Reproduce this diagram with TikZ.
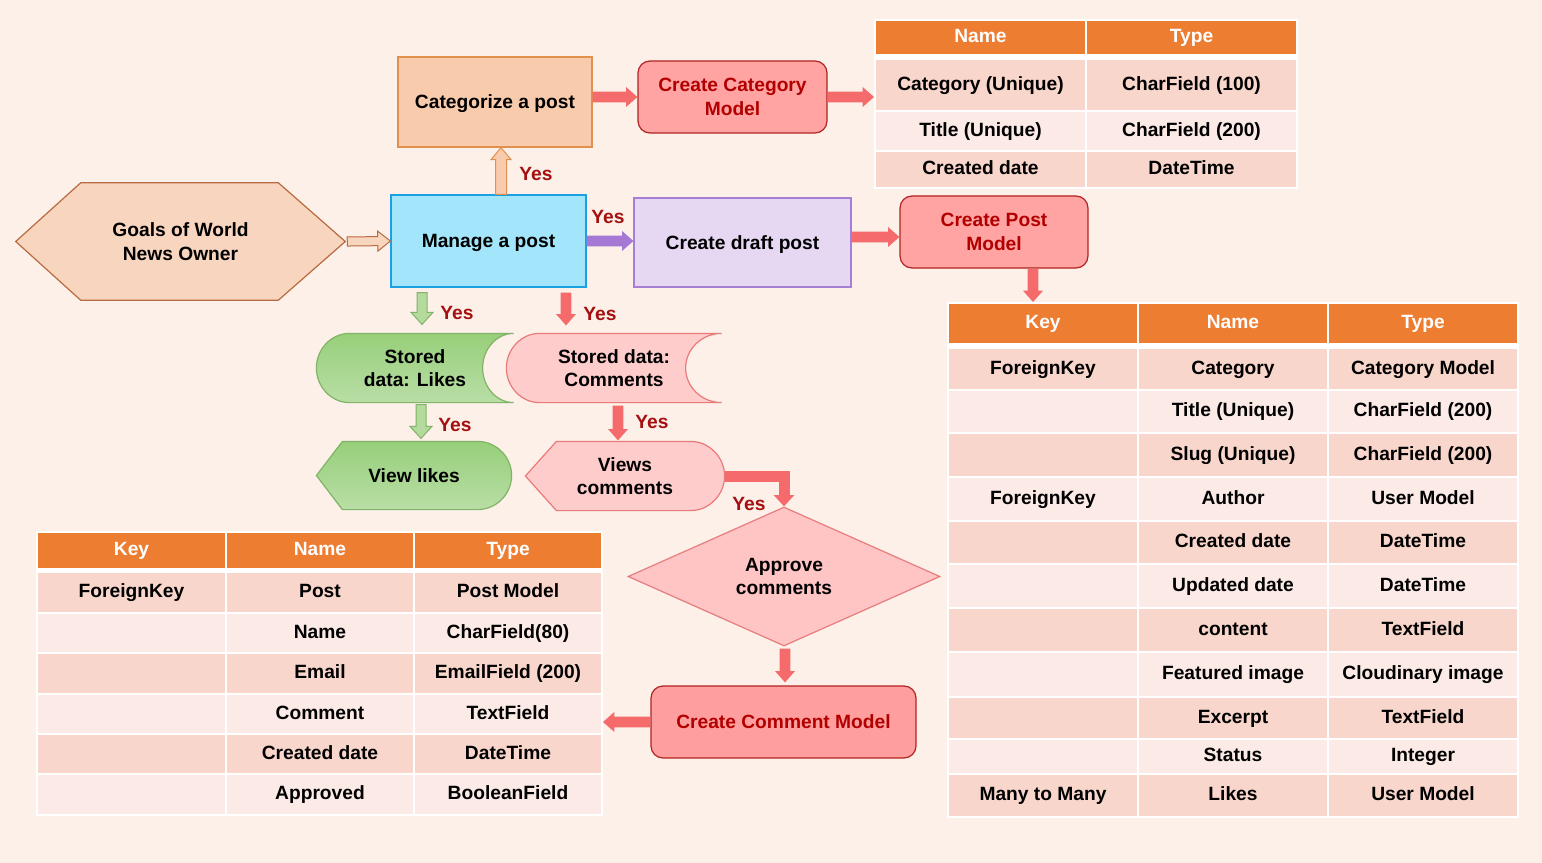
\documentclass[tikz,border=0pt]{standalone}
\usepackage{fontspec}
\setmainfont{Liberation Sans}
\usetikzlibrary{calc,arrows.meta,shapes.geometric}
\pgfdeclarelayer{bgl}
\pgfsetlayers{bgl,main}
\definecolor{bg}{HTML}{FCF0E9}
\definecolor{hdr}{HTML}{ED7D31}
\definecolor{rowd}{HTML}{F8D6CB}
\definecolor{rowl}{HTML}{FBEAE5}
\definecolor{yescol}{HTML}{A50F0F}
\definecolor{darkred}{HTML}{B20000}
\definecolor{arrred}{HTML}{F56B6B}
\definecolor{pinkfill}{HTML}{FFA3A3}
\definecolor{pinkborder}{HTML}{B22222}
\definecolor{lightpink}{HTML}{FFCCCC}
\definecolor{lightpinkbd}{HTML}{EA7A7A}
\definecolor{cyanfill}{HTML}{A3E6FB}
\definecolor{cyanbd}{HTML}{1BA1E2}
\definecolor{lavfill}{HTML}{E6D7F3}
\definecolor{lavbd}{HTML}{A67FD4}
\definecolor{purpcol}{HTML}{A678D6}
\definecolor{peachfill}{HTML}{F8CBAD}
\definecolor{peachbd}{HTML}{E0904F}
\definecolor{goalsfill}{HTML}{F8D5BF}
\definecolor{goalsbd}{HTML}{B86A40}
\definecolor{grtop}{HTML}{97CF7A}
\definecolor{grbot}{HTML}{B9DEA6}
\definecolor{grbd}{HTML}{82B366}
\definecolor{grarr}{HTML}{B5DA9E}
\definecolor{diafill}{HTML}{FFC4C4}
\definecolor{diabd}{HTML}{E67C7C}
\definecolor{cmmfill}{HTML}{FF9E9E}
\newcommand\dtxt{\bfseries\fontsize{14.4}{17.6}\selectfont}
\tikzset{
 blockarrow/.style n args={3}{to path={let \p1=(\tikztostart),\p2=(\tikztotarget),
   \n1={veclen(\x2-\x1,\y2-\y1)},\n2={atan2(\y2-\y1,\x2-\x1)} in
   [shift={(\p1)},rotate=\n2] (0pt,-#1) -- ({\n1*1pt-#3},-#1) -- ({\n1*1pt-#3},-#2)
   -- ({\n1*1pt},0pt) -- ({\n1*1pt-#3},#2) -- ({\n1*1pt-#3},#1) -- (0pt,#1) -- cycle}},
 redarr/.style={blockarrow={4.1pt}{7.5pt}{8.5pt},fill=arrred,draw=none},
 purparr/.style={blockarrow={4.1pt}{7.5pt}{8.5pt},fill=purpcol,draw=none},
 goalarr/.style={blockarrow={3.4pt}{7.5pt}{9.5pt},fill=goalsfill,draw=goalsbd,line width=0.75pt},
 peacharr/.style={blockarrow={4.1pt}{7.5pt}{9pt},fill=peachfill,draw=peachbd,line width=0.75pt},
 greenarr/.style={blockarrow={3.75pt}{8.25pt}{9pt},fill=grarr,draw=grbd,line width=0.75pt},
 bx/.style={draw,line width=0.9pt,inner sep=0pt,align=center,font=\dtxt},
 one/.style={text height=10.3pt,text depth=0pt},
 yes/.style={text=yescol,font=\dtxt,inner sep=0pt,text height=10.3pt,text depth=0pt},
 tcell/.style={draw=white,line width=1.5pt,inner sep=0pt,font=\dtxt,text=black,text height=10.3pt,text depth=2.6pt},
}
\newcommand\tc[7]{\node[tcell,fill=#6,minimum width={(#4-#2)*0.75pt},minimum height={(#5-#3)*0.75pt}] (#1) at ({(#2+#4)/2},{(#3+#5)/2}) {#7};}
\newcommand\hc[6]{\node[tcell,fill=hdr,text=white,minimum width={(#4-#2)*0.75pt},minimum height={(#5-#3)*0.75pt}] (#1) at ({(#2+#4)/2},{(#3+#5)/2}) {#6};}
\newcommand\prow[7]{\tc{#1a}{948}{#2}{1138}{#3}{#4}{#5}\tc{#1b}{1138}{#2}{1328}{#3}{#4}{#6}\tc{#1c}{1328}{#2}{1518}{#3}{#4}{#7}}
\newcommand\krow[7]{\tc{#1a}{37}{#2}{226}{#3}{#4}{#5}\tc{#1b}{226}{#2}{414}{#3}{#4}{#6}\tc{#1c}{414}{#2}{602}{#3}{#4}{#7}}
\newcommand\storedpath[3]{($(#1.north west)+(#2,0)$) .. controls ($(#1.north west)+({0.448*#2},0)$) and ($(#1.west)+(0,-18.8)$) .. (#1.west) .. controls ($(#1.west)+(0,18.8)$) and ($(#1.south west)+({0.448*#2},0)$) .. ($(#1.south west)+(#2,0)$) -- (#1.south east) .. controls ($(#1.south east)+({-0.552*#3},0)$) and ($(#1.east)+(-#3,18.8)$) .. ($(#1.east)+(-#3,0)$) .. controls ($(#1.east)+(-#3,-18.8)$) and ($(#1.north east)+({-0.552*#3},0)$) .. (#1.north east) -- cycle}
\newcommand\displaypath[3]{(#1.west) -- ($(#1.north west)+(#2,0)$) -- ($(#1.north east)+(-#3,0)$) .. controls ($(#1.north east)+({-0.448*#3},0)$) and ($(#1.east)+(0,-18.5)$) .. (#1.east) .. controls ($(#1.east)+(0,18.5)$) and ($(#1.south east)+({-0.448*#3},0)$) .. ($(#1.south east)+(-#3,0)$) -- ($(#1.south west)+(#2,0)$) -- cycle}
\begin{document}
\begin{tikzpicture}[x=0.75pt,y=-0.75pt]
\begin{pgfonlayer}{bgl}
\fill[bg] (0,0) rectangle (1542,863);
\end{pgfonlayer}
\useasboundingbox (0,0) rectangle (1542,863);
% ---------- flow nodes ----------
\node[inner sep=0pt,minimum width=246.75pt,minimum height=87.75pt,align=center,font=\dtxt] (goals) at (180.5,241.5) {Goals of World\\News Owner};
\node[bx,one,draw=cyanbd,fill=cyanfill,minimum width=146.25pt,minimum height=69pt] (manage) at (488.5,241) {Manage a post};
\node[bx,one,draw=peachbd,fill=peachfill,minimum width=145.5pt,minimum height=67.5pt] (categorize) at (495,102) {Categorize a post};
\node[bx,draw=pinkborder,fill=pinkfill,text=darkred,rounded corners=9pt,minimum width=141.75pt,minimum height=54pt] (ccm) at (732.5,97) {Create Category\\Model};
\node[bx,one,draw=lavbd,fill=lavfill,minimum width=162.75pt,minimum height=66.75pt] (draft) at (742.5,242.5) {Create draft post};
\node[bx,draw=pinkborder,fill=pinkfill,text=darkred,rounded corners=9pt,minimum width=141pt,minimum height=54pt] (cpm) at (994,232) {Create Post\\Model};
\node[bx,draw=none,minimum width=147pt,minimum height=51pt] (likes) at (415,368) {Stored\\data: Likes};
\node[bx,draw=none,minimum width=160.5pt,minimum height=51pt] (scomm) at (614,368) {Stored data:\\Comments};
\node[bx,one,draw=none,minimum width=145.5pt,minimum height=50.25pt] (vlikes) at (414,475.5) {View likes};
\node[bx,draw=none,minimum width=148.5pt,minimum height=51pt] (vcomm) at (625,476) {Views\\comments};
\node[bx,diamond,draw=diabd,fill=diafill,minimum width=234pt,minimum height=104.25pt] (approve) at (784,576.5) {Approve\\comments};
\node[bx,one,draw=pinkborder,fill=cmmfill,text=darkred,rounded corners=9pt,minimum width=198.75pt,minimum height=54pt] (cmm) at (783.5,722) {Create Comment Model};
% ---------- custom outlines ----------
\begin{pgfonlayer}{bgl}
\draw[draw=goalsbd,fill=goalsfill,line width=0.9pt] (goals.west) -- ($(goals.north west)+(65,0)$) -- ($(goals.north east)+(-67,0)$) -- (goals.east) -- ($(goals.south east)+(-67,0)$) -- ($(goals.south west)+(65,0)$) -- cycle;
\draw[draw=grbd,top color=grtop,bottom color=grbot,line width=0.9pt] \storedpath{likes}{33}{31};
\draw[draw=lightpinkbd,fill=lightpink,line width=0.9pt] \storedpath{scomm}{33}{36};
\draw[draw=grbd,top color=grtop,bottom color=grbot,line width=0.9pt] \displaypath{vlikes}{26}{34};
\draw[draw=lightpinkbd,fill=lightpink,line width=0.9pt] \displaypath{vcomm}{31}{34};
\end{pgfonlayer}
% ---------- tables ----------
\fill[white] (874,19) rectangle (1298,189);
\hc{c0a}{875}{20}{1086}{55}{Name}
\hc{c0b}{1086}{20}{1297}{55}{Type}
\tc{c1a}{875}{59}{1086}{111}{rowd}{Category (Unique)}
\tc{c1b}{1086}{59}{1297}{111}{rowd}{CharField (100)}
\tc{c2a}{875}{111}{1086}{151}{rowl}{Title (Unique)}
\tc{c2b}{1086}{111}{1297}{151}{rowl}{CharField (200)}
\tc{c3a}{875}{151}{1086}{188}{rowd}{Created date}
\tc{c3b}{1086}{151}{1297}{188}{rowd}{DateTime}
\fill[white] (947,302) rectangle (1519,818);
\hc{p0a}{948}{303}{1138}{344}{Key}
\hc{p0b}{1138}{303}{1328}{344}{Name}
\hc{p0c}{1328}{303}{1518}{344}{Type}
\prow{p1}{348}{390}{rowd}{ForeignKey}{Category}{Category Model}
\prow{p2}{390}{433}{rowl}{}{Title (Unique)}{CharField (200)}
\prow{p3}{433}{477}{rowd}{}{Slug (Unique)}{CharField (200)}
\prow{p4}{477}{521}{rowl}{ForeignKey}{Author}{User Model}
\prow{p5}{521}{564}{rowd}{}{Created date}{DateTime}
\prow{p6}{564}{608}{rowl}{}{Updated date}{DateTime}
\prow{p7}{608}{652}{rowd}{}{content}{TextField}
\prow{p8}{652}{697}{rowl}{}{Featured image}{Cloudinary image}
\prow{p9}{697}{739}{rowd}{}{Excerpt}{TextField}
\prow{p10}{739}{774}{rowl}{}{Status}{Integer}
\prow{p11}{774}{817}{rowd}{Many to Many}{Likes}{User Model}
\fill[white] (36,531) rectangle (603,816);
\hc{k0a}{37}{532}{226}{569}{Key}
\hc{k0b}{226}{532}{414}{569}{Name}
\hc{k0c}{414}{532}{602}{569}{Type}
\krow{k1}{572}{613}{rowd}{ForeignKey}{Post}{Post Model}
\krow{k2}{613}{653}{rowl}{}{Name}{CharField(80)}
\krow{k3}{653}{694}{rowd}{}{Email}{EmailField (200)}
\krow{k4}{694}{734}{rowl}{}{Comment}{TextField}
\krow{k5}{734}{774}{rowd}{}{Created date}{DateTime}
\krow{k6}{774}{815}{rowl}{}{Approved}{BooleanField}
% ---------- connectors ----------
\draw[goalarr] ($(goals.east)+(2,0)$) to (manage.west);
\draw[peacharr] ([xshift=9.4pt]manage.north) to ([xshift=9.4pt]manage.north |- categorize.south);
\draw[redarr] (categorize.east |- ccm.west) to (ccm.west);
\draw[redarr] (ccm.east) to (ccm.east -| c1a.west);
\draw[purparr] (manage.east) to (draft.west |- manage.east);
\draw[redarr] ([yshift=-3.75pt]draft.east |- cpm.west) to ([yshift=-3.75pt]cpm.west);
\draw[redarr] ([xshift=29.25pt]cpm.south) to ([xshift=29.25pt]cpm.south |- p0a.north);
\draw[greenarr] ($(manage.south -| likes.north)+(7,5)$) to ($(likes.north)+(7,-9)$);
\draw[redarr] ($(manage.south -| scomm.north)+(-48,5)$) to ($(scomm.north)+(-48,-8)$);
\draw[greenarr] ($(likes.south)+(6,2)$) to ($(vlikes.north)+(7,-3)$);
\draw[redarr] ($(scomm.south)+(4,3)$) to ($(vcomm.north)+(-7,-1)$);
\draw[arrred,line width=8.25pt,-{Triangle[width=15pt,length=8.5pt]}] (vcomm.east) -| (approve.north);
\draw[redarr] ($(approve.south)+(1,2)$) to ($(cmm.north)+(1.5,-3)$);
\draw[redarr] (cmm.west) to (cmm.west -| k4c.east);
% ---------- labels ----------
\node[yes] (yes1) at (536,174) {Yes};
\node[yes] (yes2) at (608,217) {Yes};
\node[yes] (yes3) at (457,313) {Yes};
\node[yes] (yes4) at (600,314) {Yes};
\node[yes] (yes5) at (455,425) {Yes};
\node[yes] (yes6) at (652,422) {Yes};
\node[yes] (yes7) at (749,504) {Yes};
\end{tikzpicture}
\end{document}
